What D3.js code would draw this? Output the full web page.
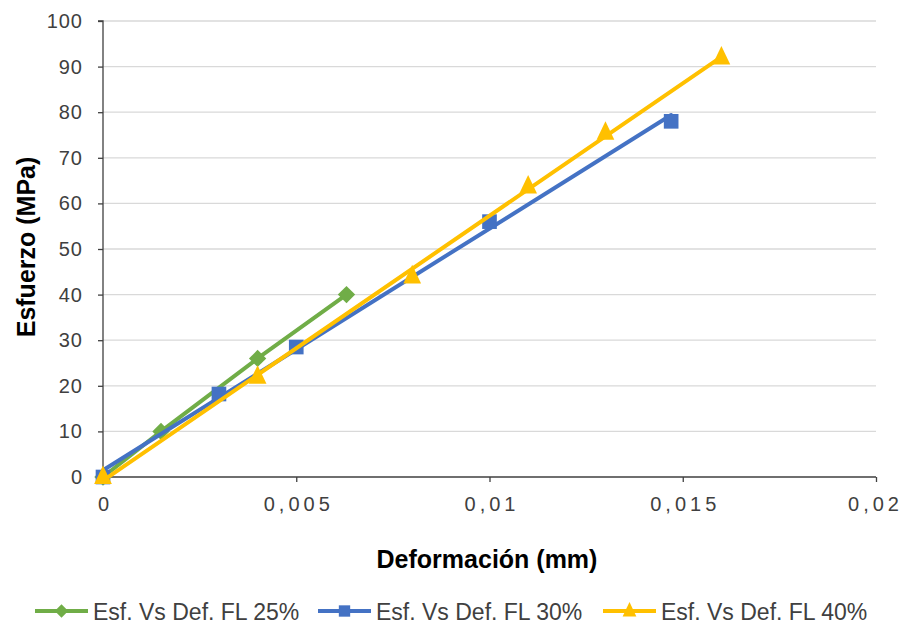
<!DOCTYPE html>
<html><head><meta charset="utf-8">
<script src="https://cdn.jsdelivr.net/npm/d3@7"></script>
<style>body{margin:0;background:#fff;} text{font-family:"Liberation Sans",Arial,sans-serif;}</style>
</head><body>
<svg id="c" width="903" height="624"></svg>
<script>
const seriesNames = ["Esf. Vs Def. FL 25%", "Esf. Vs Def. FL 30%", "Esf. Vs Def. FL 40%"];
const fl25X = [0, 0.0015, 0.004, 0.0063];
const fl25Y = [0, 10, 26, 40];
const fl30X = [0, 0.003, 0.005, 0.01, 0.0147];
const fl30Y = [0, 18.2, 28.5, 56, 78];
const fl40X = [0, 0.004, 0.008, 0.011, 0.013, 0.016];
const fl40Y = [0, 22, 44, 63.7, 75.5, 92];
const xTicks = [0, 0.005, 0.01, 0.015, 0.02];
const xTickLabels = ["0", "0,005", "0,01", "0,015", "0,02"];
const yTicks = [0,10,20,30,40,50,60,70,80,90,100];

const colors = ["#70AD47", "#4472C4", "#FFC000"];
const diamond = { draw(ctx, size) { const r = Math.sqrt(size/2); ctx.moveTo(0,-r); ctx.lineTo(r,0); ctx.lineTo(0,r); ctx.lineTo(-r,0); ctx.closePath(); } };
const triangle = { draw(ctx, size) { const w = Math.sqrt(size*2/1.05), h = w*1.05; ctx.moveTo(0,-h*0.62); ctx.lineTo(w/2,h*0.38); ctx.lineTo(-w/2,h*0.38); ctx.closePath(); } };
const symbols = [diamond, d3.symbolSquare, triangle];
const symSizes = [150, 215, 165];

const svg = d3.select("#c");
const x = d3.scaleLinear().domain([0, 0.02]).range([103, 876]);
const y = d3.scaleLinear().domain([0, 100]).range([477, 21]);

// grid
svg.append("g").selectAll("line").data(yTicks.filter(d=>d>0)).join("line")
  .attr("x1", x(0)).attr("x2", x(0.02)).attr("y1", d=>y(d)).attr("y2", d=>y(d))
  .attr("stroke", "#d9d9d9").attr("stroke-width", 1.3);

// axes
const yAxis = d3.axisLeft(y).tickValues(yTicks).tickSize(5).tickPadding(16);
const gy = svg.append("g").attr("transform", `translate(${x(0)},0)`).call(yAxis);
const xAxis = d3.axisBottom(x).tickValues(xTicks).tickFormat((d,i)=>xTickLabels[i]).tickSize(5).tickPadding(15);
const gx = svg.append("g").attr("transform", `translate(0,${y(0)})`).call(xAxis);
[gx, gy].forEach(g => {
  g.select(".domain").attr("stroke", "#404040").attr("stroke-width", 1.3);
  g.selectAll(".tick line").attr("stroke", "#404040").attr("stroke-width", 1.3);
  g.selectAll(".tick text").attr("fill", "#404040").style("font-size", "20px").style("font-family", "Liberation Sans, Arial, sans-serif");
});
gy.selectAll(".tick text").style("letter-spacing", "1px").attr("dx", "1px");
gx.selectAll(".tick text").style("letter-spacing", "4px").attr("dx", (d, i) => i === xTicks.length - 1 ? "-1px" : "2px");
gy.select(".domain").attr("d", `M-5,${y(100)}H0V${y(0)}`);
gx.select(".domain").attr("d", `M${x(0)},5V0H${x(0.02)}`);

// series
const series = [[fl25X, fl25Y], [fl30X, fl30Y], [fl40X, fl40Y]];
function fit(xs, ys) {
  const n = xs.length, mx = d3.mean(xs), my = d3.mean(ys);
  let sxy = 0, sxx = 0;
  for (let i = 0; i < n; i++) { sxy += (xs[i]-mx)*(ys[i]-my); sxx += (xs[i]-mx)**2; }
  const b = sxy/sxx, a = my - b*mx;
  return [[d3.min(xs), a + b*d3.min(xs)], [d3.max(xs), a + b*d3.max(xs)]];
}
const line = d3.line().x(d=>x(d[0])).y(d=>y(d[1]));
series.forEach((s, i) => {
  const pts = s[0].map((v, j) => [v, s[1][j]]);
  const g = svg.append("g");
  const lineData = i === 0 ? pts : fit(s[0], s[1]);
  g.append("path").attr("d", line(lineData)).attr("fill", "none")
    .attr("stroke", colors[i]).attr("stroke-width", 4).attr("stroke-linecap", "round");
  g.selectAll("path.m").data(pts).join("path").attr("class", "m")
    .attr("d", d3.symbol().type(symbols[i]).size(symSizes[i]))
    .attr("transform", d => `translate(${x(d[0])},${y(d[1])})`)
    .attr("fill", colors[i]);
});

// axis titles
svg.append("text").attr("x", 487).attr("y", 568).attr("text-anchor", "middle")
  .style("font-size", "25px").style("font-weight", "bold").attr("fill", "#000").text("Deformación (mm)");
svg.append("text").attr("transform", "translate(35,247) rotate(-90)").attr("text-anchor", "middle")
  .style("font-size", "25px").style("font-weight", "bold").attr("fill", "#000").text("Esfuerzo (MPa)");

// legend
const legX = [35, 318, 603];
series.forEach((s, i) => {
  const g = svg.append("g").attr("transform", `translate(${legX[i]},611)`);
  g.append("line").attr("x1", 0).attr("x2", 53).attr("y1", 0).attr("y2", 0)
    .attr("stroke", colors[i]).attr("stroke-width", 4);
  g.append("path").attr("d", d3.symbol().type(symbols[i]).size(symSizes[i]*0.6)).attr("transform", "translate(26.5,0)").attr("fill", colors[i]);
  g.append("text").attr("x", 58).attr("y", 9).style("font-size", "23px").attr("fill", "#404040").text(seriesNames[i]);
});
</script>
</body></html>
